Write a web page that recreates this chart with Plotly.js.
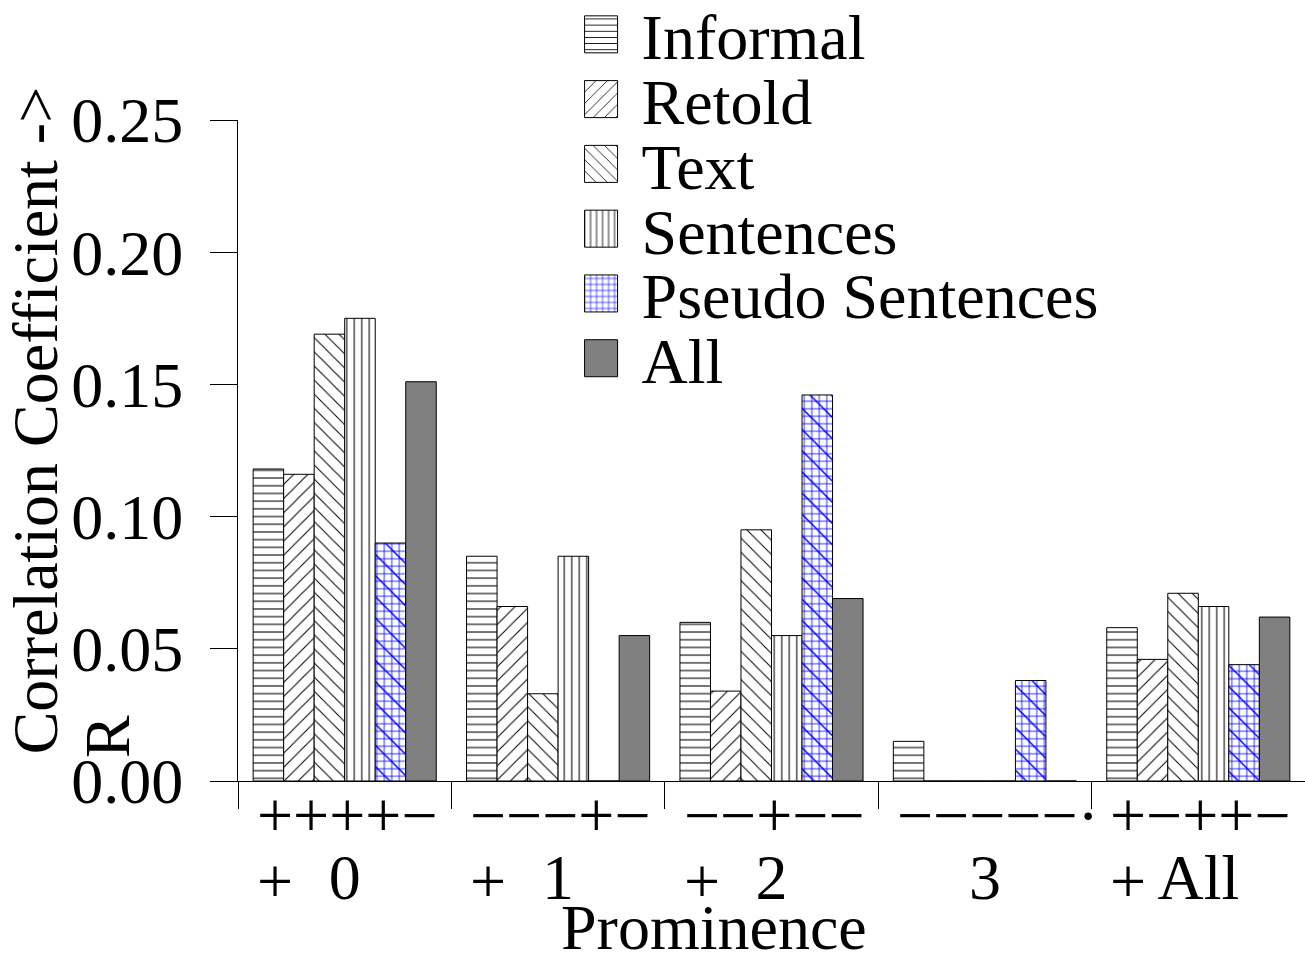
<!DOCTYPE html>
<html>
<head>
<meta charset="utf-8">
<script src="https://cdn.plot.ly/plotly-3.0.1.min.js"></script>
<style>html,body{margin:0;padding:0;background:#fff;}#chart{width:1305px;height:955px;}</style>
</head>
<body>
<div id="chart"></div>
<script>
// ---- data ----
const categories = ["0", "1", "2", "3", "All"];
const seriesNames = ["Informal", "Retold", "Text", "Sentences", "Pseudo Sentences", "All"];
const informal  = [0.118, 0.085, 0.060, 0.015, 0.058];
const retold    = [0.116, 0.066, 0.034, 0.000, 0.046];
const text      = [0.169, 0.033, 0.095, 0.000, 0.071];
const sentences = [0.175, 0.085, 0.055, 0.000, 0.066];
const pseudo    = [0.090, 0.000, 0.146, 0.038, 0.044];
const allSeries = [0.151, 0.055, 0.069, 0.000, 0.062];
const signRow1 = ["++++\u2212", "\u2212\u2212\u2212+\u2212", "\u2212\u2212+\u2212\u2212", "\u2212\u2212\u2212\u2212\u2212\u00B7", "+\u2212++\u2212"];
const signRow2 = ["+", "+", "+", "", "+"];
const yTicks = [0, 0.05, 0.10, 0.15, 0.20, 0.25];

// ---- styling ----
const FONT = "Liberation Serif, Times New Roman, serif";
const FS = 64;
const seriesValues = [informal, retold, text, sentences, pseudo, allSeries];
const patterns = [
  {shape: "-", size: 7.7, solidity: 0.14, fgcolor: "#000", bgcolor: "#fff"},
  {shape: "/", size: 10, solidity: 0.1, fgcolor: "#000", bgcolor: "#fff"},
  {shape: "\\", size: 10, solidity: 0.1, fgcolor: "#000", bgcolor: "#fff"},
  {shape: "|", size: 7.5, solidity: 0.14, fgcolor: "#000", bgcolor: "#fff"},
  {shape: "+", size: 7.5, solidity: 0.2, fgcolor: "#0000ff", bgcolor: "#fff"},
  null
];
const legendY = [1.129, 1.031, 0.933, 0.835, 0.737, 0.639];
const W = 0.143;
const traces = [];
const layout = {
  width: 1305, height: 955,
  margin: {l: 238, r: 0, t: 120, b: 174, pad: 0, autoexpand: false},
  paper_bgcolor: "#fff", plot_bgcolor: "#fff",
  font: {family: FONT, size: FS, color: "#000"},
  barmode: "overlay",
  xaxis: {
    type: "category", range: [-0.5, 4.5], fixedrange: true,
    showline: true, linecolor: "#000", linewidth: 1,
    ticks: "outside", tickson: "boundaries", ticklen: 27, tickcolor: "#000", tickwidth: 1,
    showgrid: false, zeroline: false,
    tickfont: {family: FONT, size: FS, color: "#000"},
    ticklabelstandoff: 40
  },
  yaxis: {
    range: [0, 0.25], tickvals: yTicks, tickformat: ".2f",
    showline: true, linecolor: "#000", linewidth: 1,
    ticks: "outside", ticklen: 27, tickcolor: "#000", tickwidth: 1,
    showgrid: false, zeroline: false,
    tickfont: {family: FONT, size: FS, color: "#000"},
    ticklabelstandoff: 14
  },
  annotations: [],
  showlegend: true
};

seriesNames.forEach((name, i) => {
  const legendKey = i === 0 ? "legend" : "legend" + (i + 1);
  const marker = {
    color: i === 5 ? "#808080" : "#fff",
    line: {color: "#000", width: 1}
  };
  if (patterns[i]) marker.pattern = patterns[i];
  traces.push({
    type: "bar", name: name, x: categories, y: seriesValues[i],
    width: W, offset: -3 * W + i * W,
    marker: marker, legend: legendKey, hoverinfo: "skip"
  });
  layout[legendKey] = {
    x: 0.322, xanchor: "left", y: legendY[i], yanchor: "middle",
    font: {family: FONT, size: FS, color: "#000"},
    bgcolor: "rgba(0,0,0,0)", borderwidth: 0, itemwidth: 50, tracegroupgap: 0
  };
});
// diagonal overlay for the pseudo-sentence crosshatch
traces.push({
  type: "bar", name: "Pseudo Sentences", x: categories, y: pseudo,
  width: W, offset: -3 * W + 4 * W, showlegend: false, hoverinfo: "skip",
  marker: {color: "rgba(0,0,0,0)", line: {width: 0},
    pattern: {shape: "\\", size: 15, solidity: 0.1, fgcolor: "#0000ff", bgcolor: "rgba(0,0,0,0)"}}
});

categories.forEach((c, i) => {
  layout.annotations.push({
    xref: "x", yref: "paper", x: c, y: -0.052, xanchor: "left", yanchor: "middle",
    xshift: -90, text: signRow1[i], showarrow: false,
    font: {family: FONT, size: FS, color: "#000"}
  });
  if (signRow2[i]) layout.annotations.push({
    xref: "x", yref: "paper", x: c, y: -0.152, xanchor: "left", yanchor: "middle",
    xshift: -90, text: signRow2[i], showarrow: false,
    font: {family: FONT, size: FS, color: "#000"}
  });
});
layout.annotations.push(
  {xref: "paper", yref: "paper", x: -0.190, y: 0.546, xanchor: "center", yanchor: "middle",
   text: "Correlation Coefficient ->", textangle: -90, showarrow: false,
   font: {family: FONT, size: FS, color: "#000"}},
  {xref: "paper", yref: "paper", x: -0.1218, y: 0.0666, xanchor: "center", yanchor: "middle",
   text: "R", textangle: -90, showarrow: false,
   font: {family: FONT, size: FS, color: "#000"}},
  {xref: "paper", yref: "paper", x: 0.446, y: -0.222, xanchor: "center", yanchor: "middle",
   text: "Prominence", showarrow: false,
   font: {family: FONT, size: FS, color: "#000"}}
);

Plotly.newPlot("chart", traces, layout, {staticPlot: true, displayModeBar: false}).then(gd => {
  // enlarge legend swatches to the reference's box size
  gd.querySelectorAll(".legendpoints path").forEach(p => {
    p.setAttribute("d", "M6,18.5H-27V-18.5H6Z");
  });
});
</script>
</body>
</html>
